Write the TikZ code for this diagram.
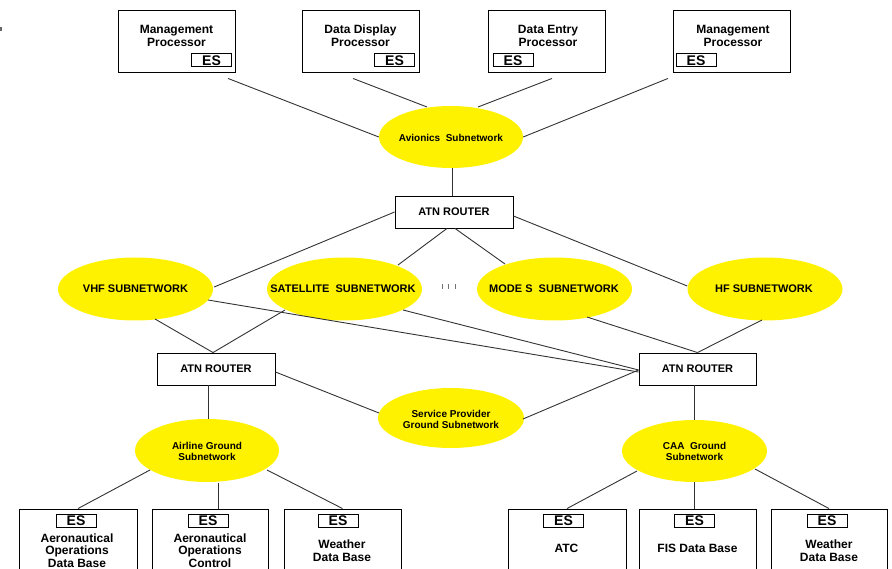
\documentclass[tikz,border=0pt]{standalone}
\usepackage{fontspec}
\setmainfont{Liberation Sans}
\usetikzlibrary{shapes.geometric,calc}

\tikzset{
  % plain rectangular equipment box (no text of its own)
  unit/.style={draw=black, line width=0.9pt, inner sep=0pt,
    minimum width=117pt, minimum height=62pt},
  lowunit/.style={draw=black, line width=0.9pt, inner sep=0pt,
    minimum width=117pt, minimum height=72pt},
  router/.style={draw=black, line width=0.9pt, inner sep=0pt,
    minimum width=118pt, minimum height=32pt,
    font=\fontsize{11}{12}\selectfont\bfseries},
  es/.style={draw=black, line width=1pt, inner sep=0pt,
    minimum width=40pt, minimum height=13pt,
    font=\fontsize{14}{14}\selectfont\bfseries},
  % yellow subnetwork cloud; its label is set as a separate node
  subnet/.style={ellipse, fill=yellow, draw=none, inner sep=0pt},
  radio/.style={subnet, minimum width=155pt, minimum height=63pt},
  subtext/.style={inner sep=0pt, align=center,
    font=\fontsize{10}{11}\selectfont\bfseries},
  radiotext/.style={inner sep=0pt, font=\fontsize{11}{12}\selectfont\bfseries},
  toplabel/.style={inner sep=0pt, align=center,
    font=\fontsize{12}{12.5}\selectfont\bfseries},
  lowlabel/.style={inner sep=0pt, align=center,
    font=\fontsize{12}{12.5}\selectfont\bfseries},
  link/.style={draw=black!80, line width=0.9pt},
}

\begin{document}
\begin{tikzpicture}[x=1pt, y=-1pt]
\useasboundingbox (0,0) rectangle (892,569);
\clip (0,0) rectangle (892,569);

% stray mark at the left margin
\fill[black!60] (0,27) rectangle (2,31);

% ---------- airborne end systems ----------
\node[unit] (mp1) at (176.5,41) {};
\node[unit] (ddp) at (360.5,41) {};
\node[unit] (dep) at (546.5,41) {};
\node[unit] (mp2) at (732,41) {};

\node[toplabel] (mp1t) at (176.5,35.7) {Management\\Processor};
\node[toplabel] (ddpt) at (360.5,35.7) {Data Display\\Processor};
\node[toplabel] (dept) at (548,35.7) {Data Entry\\Processor};
\node[toplabel] (mp2t) at (733,35.7) {Management\\Processor};

\node[es] (mp1es) at (211.5,60.5) {ES};
\node[es] (ddpes) at (394.5,60.5) {ES};
\node[es] (depes) at (513,60.5) {ES};
\node[es] (mp2es) at (696,60.5) {ES};

% ---------- avionics subnetwork and airborne router ----------
\node[subnet, minimum width=144pt, minimum height=62pt] (avi) at (451,137) {};
\node[subtext] (avit) at (451,138) {Avionics\ \ Subnetwork};
\node[router] (r0) at (454,212) {ATN ROUTER};

% ---------- air/ground subnetworks ----------
\node[radio] (vhf) at (135.5,289) {};
\node[radio] (sat) at (344.5,289) {};
\node[radio] (mode) at (554.5,289) {};
\node[radio] (hf) at (765,289) {};
\node[radiotext] (vhft) at (135.5,289) {VHF SUBNETWORK};
\node[radiotext] (satt) at (343,289) {SATELLITE\ \ SUBNETWORK};
\node[radiotext] (modet) at (554,289) {MODE S\ \ SUBNETWORK};
\node[radiotext] (hft) at (764,289) {HF SUBNETWORK};

% ellipsis between the satellite and mode S subnetworks
\draw[black!55, line width=0.8pt] (442,284) -- (442,289) (448.5,284) -- (448.5,289) (455,284) -- (455,289);

% ---------- ground routers ----------
\node[router] (r1) at (216,369) {ATN ROUTER};
\node[router, minimum width=117pt] (r2) at (697.5,369) {ATN ROUTER};

% ---------- ground subnetworks ----------
\node[subnet, minimum width=146pt, minimum height=60pt] (sp) at (451,418) {};
\node[subnet, minimum width=144pt, minimum height=63pt] (air) at (207,450.5) {};
\node[subnet, minimum width=145pt, minimum height=62pt] (caa) at (694.5,451) {};
\node[subtext] (spt) at (451,419.5) {Service Provider\\Ground Subnetwork};
\node[subtext] (airt) at (207,451.5) {Airline Ground\\Subnetwork};
\node[subtext] (caat) at (694.5,451.5) {CAA\ \ Ground\\Subnetwork};

% ---------- ground end systems ----------
\node[lowunit, minimum width=118pt] (aod) at (78,545) {};
\node[lowunit, minimum width=116pt] (aoc) at (210,545) {};
\node[lowunit] (wdb1) at (342.5,545) {};
\node[lowunit, minimum width=118pt] (atc) at (567,545) {};
\node[lowunit] (fis) at (697.5,545) {};
\node[lowunit, minimum width=116pt] (wdb2) at (829,545) {};

\node[es] (aodes) at (76,520.5) {ES};
\node[es] (aoces) at (208,520.5) {ES};
\node[es] (wdb1es) at (338,520.5) {ES};
\node[es] (atces) at (563.5,520.5) {ES};
\node[es] (fises) at (694.5,520.5) {ES};
\node[es] (wdb2es) at (827,520.5) {ES};

\node[lowlabel] (aodt) at (77,550.5) {Aeronautical\\Operations\\Data Base};
\node[lowlabel] (aoct) at (210,550.5) {Aeronautical\\Operations\\Control};
\node[lowlabel] (wdb1t) at (342,550.5) {Weather\\Data Base};
\node[lowlabel] (atct) at (566.5,548.5) {ATC};
\node[lowlabel] (fist) at (697.5,548.5) {FIS Data Base};
\node[lowlabel] (wdb2t) at (829,550.5) {Weather\\Data Base};

% ---------- connectors ----------
% end systems to the avionics subnetwork
\draw[link] ($(mp1.south)+(51.5,6)$) -- (avi.west);
\draw[link] ($(ddp.south)+(-7.5,6)$) -- ($(avi)+(-24,-30)$);
\draw[link] ($(dep.south)+(5.5,6)$) -- ($(avi)+(27,-30)$);
\draw[link] ($(mp2.south)+(-64,6)$) -- (avi.east);
% avionics subnetwork to the airborne router
\draw[link] ($(avi.south)+(1,0)$) -- ($(avi.south |- r0.north)+(1,0)$);
% airborne router to the air/ground subnetworks
\draw[link] (r0.west) -- ($(vhf.east)+(1,-2)$);
\draw[link] ($(r0.south)+(-7,0)$) -- ($(sat)+(53.5,-24)$);
\draw[link] ($(r0.south)+(1,0)$) -- ($(mode)+(-49.5,-25)$);
\draw[link] ($(r0.east)+(0,4)$) -- ($(hf.west)+(0,-3)$);
% air/ground subnetworks to the ground routers
\draw[link] ($(vhf)+(19.5,30)$) -- ($(r1.north)+(-3,0)$);
\draw[link] ($(sat)+(-59.5,21)$) -- ($(r1.north)+(-3,0)$);
\draw[link] ($(vhf)+(72.5,11)$) -- ($(r2.west)+(0,3)$);
\draw[link] ($(sat)+(58.5,21)$) -- ($(r2.west)+(0,1)$);
\draw[link] ($(mode)+(32.5,28)$) -- (r2.north);
\draw[link] ($(hf)+(-3,31)$) -- (r2.north);
% ground routers and the service provider subnetwork
\draw[link] ($(r1.east)+(0,3)$) -- ($(sp)+(-72,-5)$);
\draw[link] ($(sp)+(72,1)$) -- ($(r2.west)+(0,1)$);
% ground routers to their ground subnetworks
\draw[link] ($(air.north)+(1,0)$) -- ($(air.north |- r1.south)+(1,0)$);
\draw[link] (caa.north) -- (caa.north |- r2.south);
% ground subnetworks to the ground end systems
\draw[link] ($(air)+(-57,19.5)$) -- (aod.north);
\draw[link] ($(aoc.north)+(8,-26)$) -- ($(aoc.north)+(8,0)$);
\draw[link] ($(air)+(60,19.5)$) -- (wdb1.north);
\draw[link] ($(caa)+(-57.5,20)$) -- (atc.north);
\draw[link] (caa.south) -- (caa.south |- fis.north);
\draw[link] ($(caa)+(60.5,18)$) -- (wdb2.north);
\end{tikzpicture}
\end{document}
